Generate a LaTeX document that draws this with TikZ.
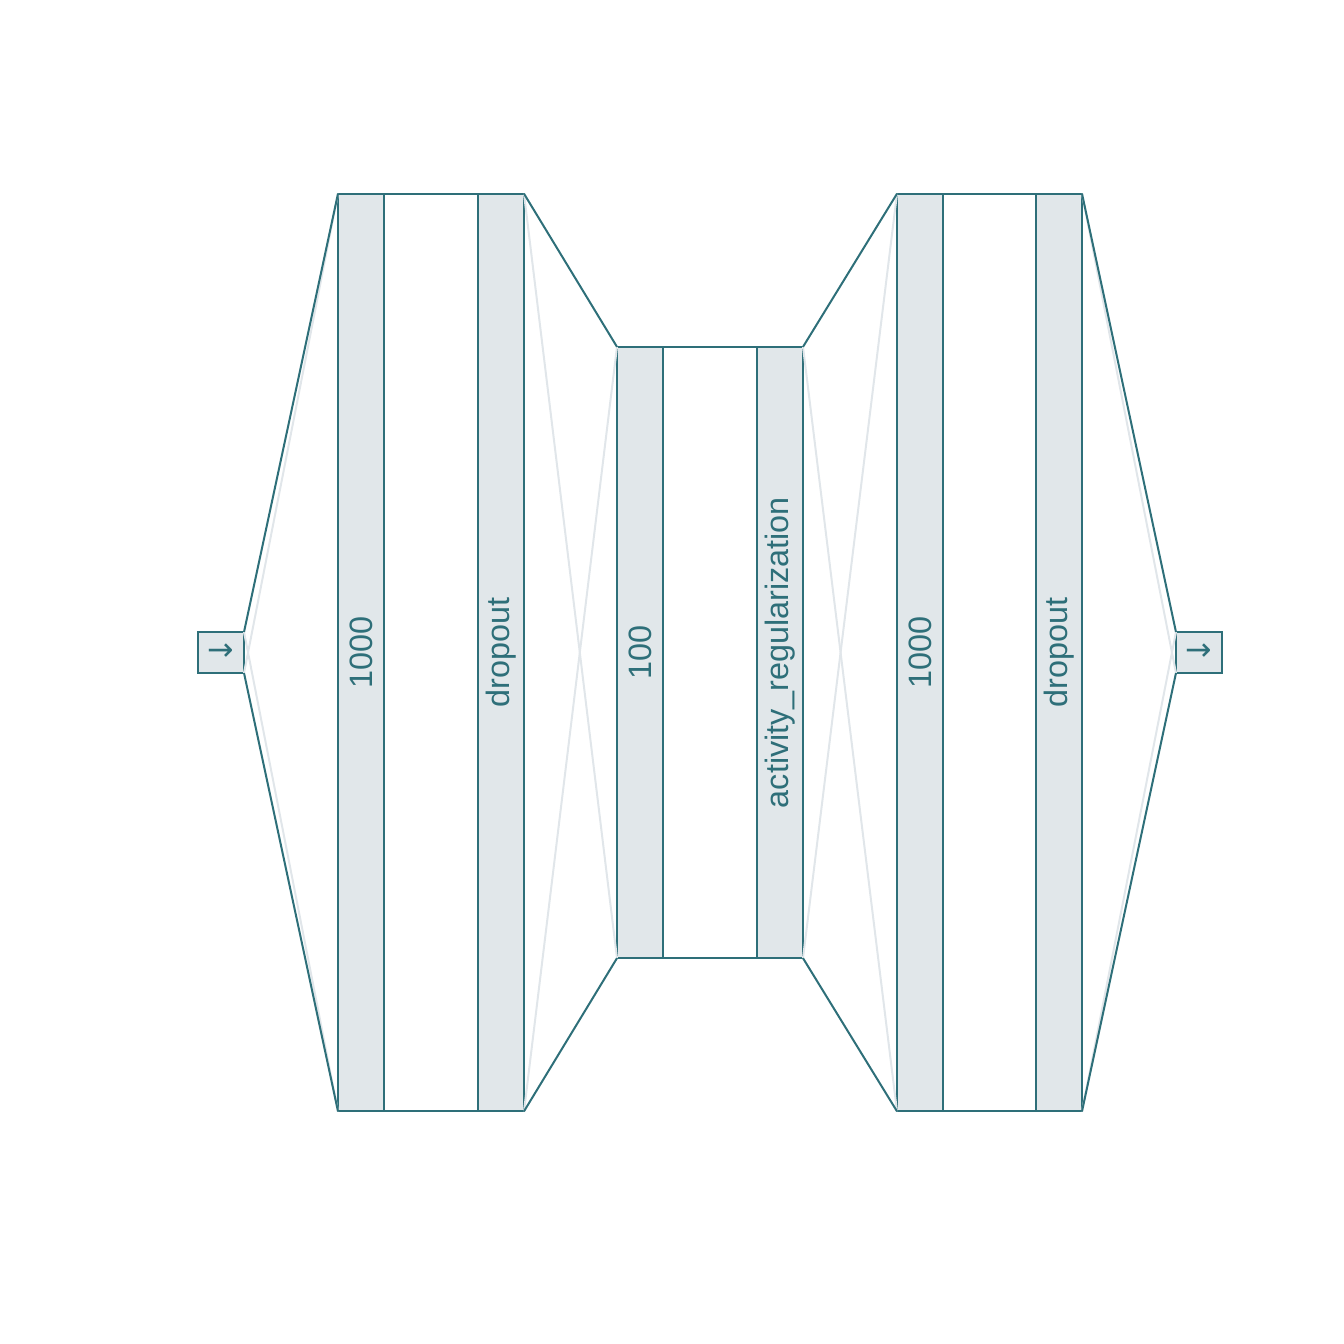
\documentclass[tikz,border=0pt]{standalone}
\usepackage{fontspec}
\setmainfont{Liberation Sans}
\newfontfamily\arrowfont{DejaVu Sans}
\definecolor{dk}{HTML}{2E6F79}
\definecolor{lf}{HTML}{E1E7EA}
\definecolor{ll}{HTML}{E1E6EA}
\tikzset{
  bar/.style={draw=dk, fill=lf, line width=0.57pt, inner sep=0pt, outer sep=0pt, minimum width=0.46cm},
  tall/.style={bar, minimum height=9.17cm},
  mid/.style={bar, minimum height=6.11cm},
  iobox/.style={bar, minimum height=0.41cm},
  lbl/.style={text=dk, rotate=90, font=\fontsize{9.2}{11}\selectfont, inner sep=0pt},
  arr/.style={text=dk, font=\arrowfont\fontsize{9}{11}\selectfont, inner sep=0pt},
  dline/.style={draw=dk, line width=0.57pt},
  lline/.style={draw=ll, line width=0.57pt},
}
\begin{document}
\begin{tikzpicture}[x=0.01cm,y=-0.01cm]
\useasboundingbox (0,0) rectangle (1344,1344);
% nodes
\node[iobox] (in) at (221,652.5) {};
\node[tall] (a1) at (361,652.5) {};
\node[tall] (a2) at (501,652.5) {};
\node[mid] (c1) at (640,652.5) {};
\node[mid] (c2) at (780,652.5) {};
\node[tall] (d1) at (920,652.5) {};
\node[tall] (d2) at (1059,652.5) {};
\node[iobox] (out) at (1199,652.5) {};
% light crossing connectors
\draw[lline] (in.north east) -- (a1.south west);
\draw[lline] (in.south east) -- (a1.north west);
\draw[lline] (a2.north east) -- (c1.south west);
\draw[lline] (a2.south east) -- (c1.north west);
\draw[lline] (c2.north east) -- (d1.south west);
\draw[lline] (c2.south east) -- (d1.north west);
\draw[lline] (d2.north east) -- (out.south west);
\draw[lline] (d2.south east) -- (out.north west);
% dark connectors
\draw[dline] (in.north east) -- (a1.north west);
\draw[dline] (in.south east) -- (a1.south west);
\draw[dline] (a2.north east) -- (c1.north west);
\draw[dline] (a2.south east) -- (c1.south west);
\draw[dline] (c2.north east) -- (d1.north west);
\draw[dline] (c2.south east) -- (d1.south west);
\draw[dline] (d2.north east) -- (out.north west);
\draw[dline] (d2.south east) -- (out.south west);
% block outlines
\draw[dline] (a1.north east) -- (a2.north west);
\draw[dline] (a1.south east) -- (a2.south west);
\draw[dline] (c1.north east) -- (c2.north west);
\draw[dline] (c1.south east) -- (c2.south west);
\draw[dline] (d1.north east) -- (d2.north west);
\draw[dline] (d1.south east) -- (d2.south west);
% labels
\node[lbl] (la1) at (a1.center) {1000};
\node[lbl] (la2) at (a2.center) {dropout};
\node[lbl] (lc1) at (c1.center) {100};
\node[lbl] (lc2) at (c2.center) {activity\_regularization};
\node[lbl] (ld1) at (d1.center) {1000};
\node[lbl] (ld2) at (d2.center) {dropout};
\node[arr] (lin) at (in.center) {→};
\node[arr] (lout) at (out.center) {→};
\end{tikzpicture}
\end{document}
